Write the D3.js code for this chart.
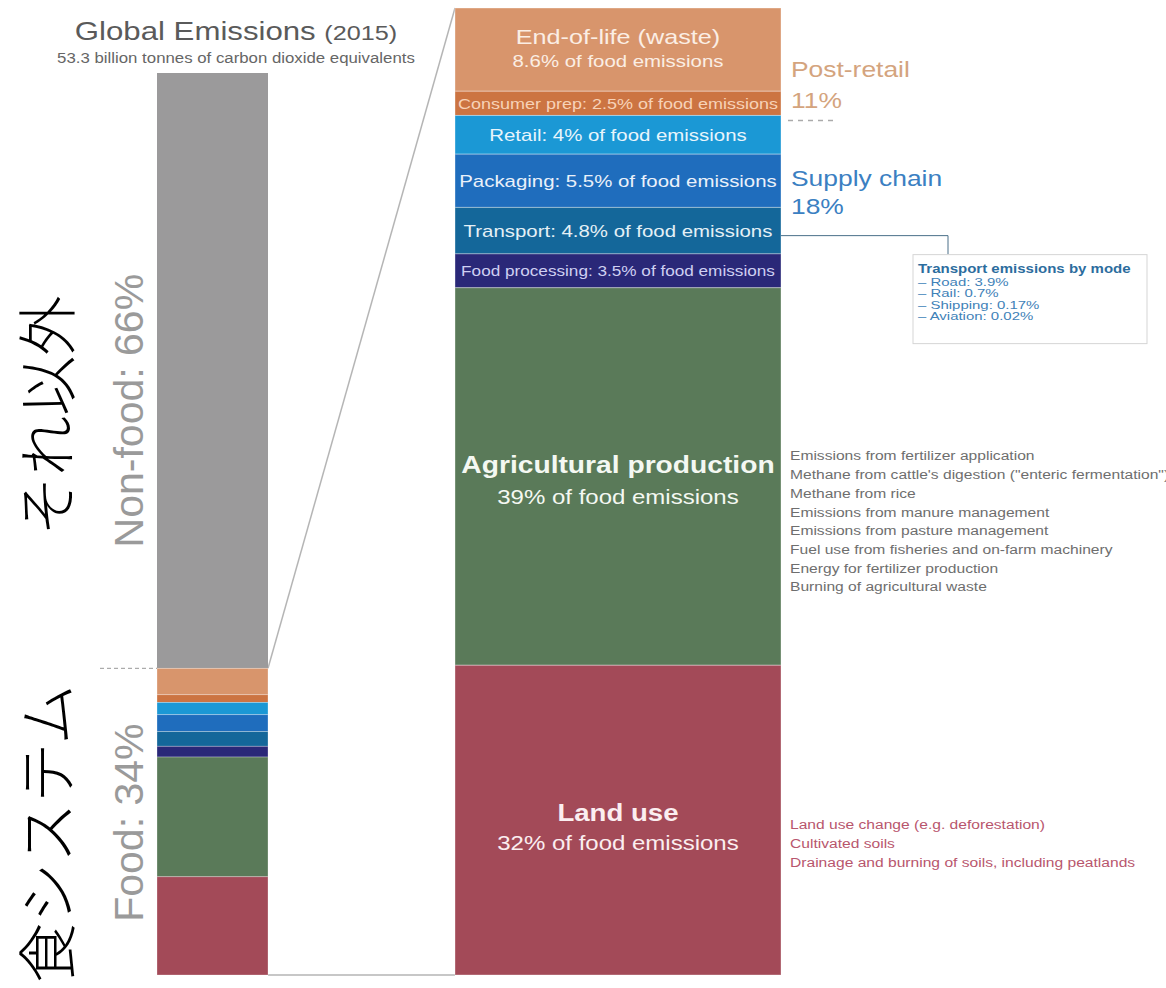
<!DOCTYPE html>
<html>
<head>
<meta charset="utf-8">
<script src="https://cdn.jsdelivr.net/npm/d3@7"></script>
<style>
  body { margin: 0; background: #fff; }
  svg { display: block; font-family: "Liberation Sans", Arial, sans-serif; }
</style>
</head>
<body>
<div id="chart"></div>
<script>
// global split
const topCategories = ["Non-food", "Food"];
const topValues = [66, 34];

// food system stages, top to bottom
const foodStages = ["End-of-life (waste)", "Consumer prep", "Retail", "Packaging",
    "Transport", "Food processing", "Agricultural production", "Land use"];
const foodShares = [8.6, 2.5, 4, 5.5, 4.8, 3.5, 39, 32];
const stageColors = ["#d8956c", "#cc7442", "#1b98d5", "#1f6dbd", "#14679a", "#2a2878", "#5a7a59", "#a34a58"];
const stageTextColors = ["#fbeee4", "#f7d2b8", "#e8f5fc", "#eaf1fa", "#e4f0f6", "#cfd0f2", "#f4f8f2", "#fbeef0"];

// groups on the right
const groupNames = ["Post-retail", "Supply chain"];
const groupShares = [11, 18];
const groupColors = ["#d4a47e", "#3b80c2"];

// transport breakdown
const transportModes = ["Road", "Rail", "Shipping", "Aviation"];
const transportShares = ["3.9", "0.7", "0.17", "0.02"];

// notes beside the big segments
const agriSources = [
    "Emissions from fertilizer application",
    "Methane from cattle's digestion (\"enteric fermentation\")",
    "Methane from rice",
    "Emissions from manure management",
    "Emissions from pasture management",
    "Fuel use from fisheries and on-farm machinery",
    "Energy for fertilizer production",
    "Burning of agricultural waste"
];
const landSources = [
    "Land use change (e.g. deforestation)",
    "Cultivated soils",
    "Drainage and burning of soils, including peatlands"
];

const width = 1166, height = 988;

const svg = d3.select("#chart").append("svg")
    .attr("width", width)
    .attr("height", height);

// the lettering in the original is drawn a bit wider than normal
function widen(sel, k = 1.2) {
    sel.each(function () {
        const len = this.getComputedTextLength();
        this.setAttribute("textLength", len * k);
        this.setAttribute("lengthAdjust", "spacingAndGlyphs");
    });
    return sel;
}

// scales
const yGlobal = d3.scaleLinear().domain([0, d3.sum(topValues)]).range([73, 975]);
const foodTotal = d3.sum(foodShares);
const yFood = d3.scaleLinear().domain([0, foodTotal]).range([8, 975]);
const yFoodSmall = d3.scaleLinear().domain([0, foodTotal]).range([yGlobal(topValues[0]), yGlobal(d3.sum(topValues))]);
const leftX = 157, leftW = 111;
const rightX = 455, rightW = 326;

// stacked offsets
const starts = [0, ...d3.cumsum(foodShares)].slice(0, foodShares.length);
const stages = foodStages.map((name, i) => ({
    name, value: foodShares[i], y0: starts[i], y1: starts[i] + foodShares[i],
    color: stageColors[i], text: stageTextColors[i]
}));

// title
const title = svg.append("text")
    .attr("transform", "translate(236,40) scale(1.2,1)")
    .attr("text-anchor", "middle")
    .attr("fill", "#5a5a5a");
title.append("tspan").attr("font-size", 26).text("Global Emissions ");
title.append("tspan").attr("font-size", 21).text("(2015)");
widen(svg.append("text")
    .attr("x", 236).attr("y", 63)
    .attr("text-anchor", "middle")
    .attr("font-size", 14)
    .attr("fill", "#666")
    .text("53.3 billion tonnes of carbon dioxide equivalents"));

// zoom connector lines
svg.append("line")
    .attr("x1", leftX + leftW).attr("y1", yGlobal(topValues[0]))
    .attr("x2", rightX).attr("y2", yFood(0))
    .attr("stroke", "#b5b5b5").attr("stroke-width", 1.5);
svg.append("line")
    .attr("x1", leftX + leftW).attr("y1", yGlobal(100))
    .attr("x2", rightX).attr("y2", yFood(foodTotal))
    .attr("stroke", "#b5b5b5").attr("stroke-width", 1.5);

// left bar: non-food
svg.append("rect")
    .attr("x", leftX).attr("y", yGlobal(0))
    .attr("width", leftW).attr("height", yGlobal(topValues[0]) - yGlobal(0))
    .attr("fill", "#9b9a9b");

// left bar: food stages
svg.append("g")
    .selectAll("rect")
    .data(stages)
    .join("rect")
    .attr("x", leftX)
    .attr("y", d => yFoodSmall(d.y0))
    .attr("width", leftW)
    .attr("height", d => yFoodSmall(d.y1) - yFoodSmall(d.y0))
    .attr("fill", d => d.color)
    .attr("stroke", "rgba(255,255,255,0.35)")
    .attr("stroke-width", 0.8);

// dashed divider at food boundary
svg.append("line")
    .attr("x1", 100).attr("x2", leftX)
    .attr("y1", yGlobal(topValues[0])).attr("y2", yGlobal(topValues[0]))
    .attr("stroke", "#999").attr("stroke-dasharray", "4,3");

// rotated labels
const sideLabel = (text, y, x, size, color, family, weight) =>
    svg.append("text")
        .attr("transform", `translate(${x},${y}) rotate(-90)`)
        .attr("text-anchor", "middle")
        .attr("font-size", size)
        .attr("font-family", family)
        .attr("font-weight", weight)
        .attr("fill", color)
        .text(text);

const nonFoodMid = (yGlobal(0) + yGlobal(topValues[0])) / 2;
const foodMid = (yGlobal(topValues[0]) + yGlobal(100)) / 2;
sideLabel(`${topCategories[0]}: ${topValues[0]}%`, nonFoodMid + 40, 143, 41, "#9a9a9a", "Liberation Sans", 300);
sideLabel(`${topCategories[1]}: ${topValues[1]}%`, foodMid + 1, 143, 41, "#9a9a9a", "Liberation Sans", 300);
sideLabel("それ以外", nonFoodMid + 45, 70, 60, "#000", "Noto Sans CJK JP", 300);
sideLabel("食システム", foodMid + 12, 70, 60, "#000", "Noto Sans CJK JP", 300);

// right bar
const seg = svg.append("g")
    .selectAll("g")
    .data(stages)
    .join("g");

seg.append("rect")
    .attr("x", rightX)
    .attr("y", d => yFood(d.y0))
    .attr("width", rightW)
    .attr("height", d => yFood(d.y1) - yFood(d.y0))
    .attr("fill", d => d.color)
    .attr("stroke", "rgba(255,255,255,0.35)")
    .attr("stroke-width", 1);

const cx = rightX + rightW / 2;
const mid = d => (yFood(d.y0) + yFood(d.y1)) / 2;

// single-line labels for the thin segments
const oneLineSize = [0, 15, 17, 17, 17, 14.3, 0, 0];
widen(seg.filter((d, i) => oneLineSize[i] > 0)
    .append("text")
    .attr("x", cx)
    .attr("y", d => mid(d))
    .attr("dy", "0.35em")
    .attr("text-anchor", "middle")
    .attr("font-size", d => oneLineSize[foodStages.indexOf(d.name)])
    .attr("fill", d => d.text)
    .text(d => `${d.name}: ${d.value}% of food emissions`));

// two-line labels for the big segments
const bigIdx = [0, 6, 7];
const bigTitleSize = [21, 23.5, 23];
const bigSubSize = [17, 20, 20];
const bigTitleDy = [-6, -3, 1];
const bigSubDy = [17, 28, 30];
bigIdx.forEach((k, j) => {
    const d = stages[k];
    const m = mid(d);
    widen(svg.append("text")
        .attr("x", cx).attr("y", m + bigTitleDy[j])
        .attr("text-anchor", "middle")
        .attr("font-size", bigTitleSize[j])
        .attr("font-weight", j === 0 ? 400 : 700)
        .attr("fill", d.text)
        .text(d.name));
    widen(svg.append("text")
        .attr("x", cx).attr("y", m + bigSubDy[j])
        .attr("text-anchor", "middle")
        .attr("font-size", bigSubSize[j])
        .attr("fill", d.text)
        .text(`${d.value}% of food emissions`));
});

// group labels on the right
const groupY = [yFood(starts[0]) + 69, yFood(starts[2]) + 71];
const groupGap = [31, 28];
groupNames.forEach((g, i) => {
    widen(svg.append("text")
        .attr("x", rightX + rightW + 10).attr("y", groupY[i])
        .attr("font-size", 22).attr("fill", groupColors[i])
        .text(g));
    widen(svg.append("text")
        .attr("x", rightX + rightW + 10).attr("y", groupY[i] + groupGap[i])
        .attr("font-size", 22).attr("fill", groupColors[i])
        .text(`${groupShares[i]}%`));
});

// dashed divider between post-retail and supply chain
svg.append("line")
    .attr("x1", rightX + rightW + 7).attr("x2", rightX + rightW + 57)
    .attr("y1", yFood(starts[2]) + 5).attr("y2", yFood(starts[2]) + 5)
    .attr("stroke", "#aaa").attr("stroke-width", 1.5).attr("stroke-dasharray", "5,5");

// transport callout
const tY = mid(stages[4]) + 5;
const boxX = 913, boxY = tY + 19, boxW = 234, boxH = 89;
svg.append("path")
    .attr("d", `M${rightX + rightW},${tY}H948V${boxY}`)
    .attr("fill", "none").attr("stroke", "#4a6f88").attr("stroke-width", 1);
svg.append("rect")
    .attr("x", boxX).attr("y", boxY).attr("width", boxW).attr("height", boxH)
    .attr("fill", "#fff").attr("stroke", "#d5d5d5");
widen(svg.append("text")
    .attr("x", boxX + 5).attr("y", boxY + 18)
    .attr("font-size", 12).attr("font-weight", 700).attr("fill", "#2c6d9e")
    .text("Transport emissions by mode"), 1.25);
widen(svg.append("g")
    .selectAll("text")
    .data(transportModes)
    .join("text")
    .attr("x", boxX + 5)
    .attr("y", (d, i) => boxY + 31 + i * 11.6)
    .attr("font-size", 11.5).attr("fill", "#3f82b8")
    .text((d, i) => `– ${d}: ${transportShares[i]}%`), 1.3);

// source notes
const notes = (list, y, color) =>
    widen(svg.append("g")
        .selectAll("text")
        .data(list)
        .join("text")
        .attr("x", rightX + rightW + 9)
        .attr("y", (d, i) => y + i * 18.7)
        .attr("font-size", 12)
        .attr("fill", color)
        .text(d => d), 1.3);
notes(agriSources, mid(stages[6]) - 16, "#6e6e6e");
notes(landSources, mid(stages[7]) + 9, "#b8566d");
</script>
</body>
</html>
